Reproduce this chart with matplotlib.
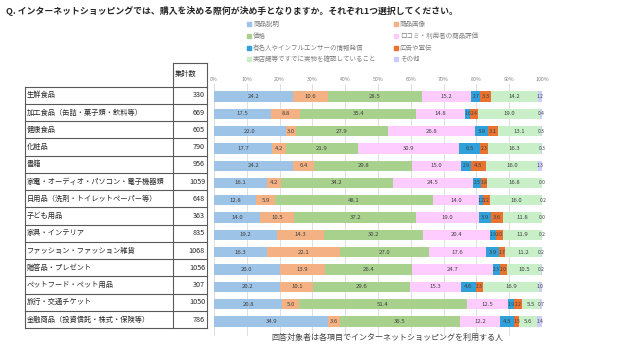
import matplotlib
matplotlib.use("Agg")
import matplotlib.pyplot as plt
from matplotlib.patches import Rectangle
import numpy as np

plt.rcParams['font.family'] = ['Noto Sans CJK JP', 'DejaVu Sans']

title = "Q. インターネットショッピングでは、購入を決める際何が決め手となりますか。それぞれ1つ選択してください。"
footnote = "回答対象者は各項目でインターネットショッピングを利用する人"

categories = ["生鮮食品", "加工食品（缶詰・菓子類・飲料等）", "健康食品", "化粧品", "書籍",
              "家電・オーディオ・パソコン・電子機器類", "日用品（洗剤・トイレットペーパー等）",
              "子ども用品", "家具・インテリア", "ファッション・ファッション雑貨",
              "贈答品・プレゼント", "ペットフード・ペット用品", "旅行・交通チケット",
              "金融商品（投資信託・株式・保険等）"]
counts = [330, 669, 605, 790, 956, 1059, 648, 363, 835, 1068, 1056, 307, 1050, 786]

series_names = ["商品説明", "商品画像", "価格", "口コミ・利用者の商品評価",
                "有名人やインフルエンサーの情報発信", "広告や宣伝",
                "実店舗等ですでに実物を確認していること", "その他"]
s_desc   = [24.2, 17.5, 22.0, 17.7, 24.2, 16.1, 12.8, 14.0, 19.2, 16.3, 20.0, 20.2, 20.8, 34.9]
s_image  = [10.6, 8.8, 3.0, 4.2, 6.4, 4.2, 5.9, 10.5, 14.3, 22.1, 13.9, 10.1, 5.0, 3.6]
s_price  = [28.5, 35.4, 27.9, 21.9, 29.8, 34.2, 48.1, 37.2, 30.2, 27.0, 26.4, 29.6, 51.4, 36.5]
s_review = [15.2, 14.8, 26.8, 30.9, 15.0, 24.5, 14.0, 19.0, 20.4, 17.6, 24.7, 15.3, 12.5, 12.2]
s_celeb  = [2.7, 1.6, 3.8, 6.5, 2.9, 2.5, 1.2, 3.9, 1.9, 3.9, 2.3, 4.6, 1.9, 4.3]
s_ad     = [3.3, 2.4, 3.1, 2.3, 4.5, 1.8, 2.2, 3.6, 2.0, 1.7, 2.0, 2.3, 2.2, 1.5]
s_store  = [14.2, 19.0, 13.1, 16.3, 16.0, 16.8, 16.0, 11.8, 11.9, 11.2, 10.5, 16.9, 5.5, 5.6]
s_other  = [1.2, 0.4, 0.3, 0.3, 1.3, 0.0, 0.2, 0.0, 0.2, 0.2, 0.2, 1.0, 0.7, 1.4]
series = [s_desc, s_image, s_price, s_review, s_celeb, s_ad, s_store, s_other]
colors = ['#9DC3E6', '#F4B183', '#A9D18E', '#FFCCFF', '#2FA0DA', '#EA7230', '#C8EFC8', '#CCCCFF']
xticks = [0, 10, 20, 30, 40, 50, 60, 70, 80, 90, 100]

W, H = 640, 350
fig = plt.figure(figsize=(6.4, 3.5), dpi=100)

# bar axes
top_px, bot_px = 84, 336
left_px, right_px = 214, 542
row0, step = 96.5, 17.3
ax = fig.add_axes([left_px / W, 1 - bot_px / H, (right_px - left_px) / W, (bot_px - top_px) / H])
n = len(categories)
y = np.arange(n)
ax.set_ylim((bot_px - row0) / step, (top_px - row0) / step)
ax.set_xlim(0, 100)
left = np.zeros(n)
for vals, c in zip(series, colors):
    v = np.array(vals)
    ax.barh(y, v, left=left, height=0.6, color=c, zorder=2)
    for yi, (l, w) in enumerate(zip(left, v)):
        fs = 4.3 if w >= 3 else 3.5
        ax.text(l + w / 2, yi, f"{w:.1f}", ha='center', va='center', fontsize=fs,
                color='#404040', zorder=3)
    left += v
ax.set_xticks(xticks)
ax.set_xticklabels([f"{t}%" for t in xticks])
ax.xaxis.tick_top()
ax.tick_params(axis='x', length=0, pad=1.5, labelsize=3.8, labelcolor='#808080')
ax.set_yticks([])
ax.grid(axis='x', color='#D9D9D9', linewidth=0.6, zorder=0)
for s in ax.spines.values():
    s.set_visible(False)

# overlay for table, legend, texts
ov = fig.add_axes([0, 0, 1, 1])
ov.set_xlim(0, W)
ov.set_ylim(H, 0)
ov.axis('off')
ov.patch.set_alpha(0)

ov.text(6, 11, title, fontsize=6.4, fontweight='bold', color='#262626', va='center', ha='left')

# table
tl, tm, tr = 25, 172.5, 207
ht, r0, rs = 63, 86.7, 17.25
lc = '#595959'
ov.plot([tm, tm], [ht, r0 + rs * n], color=lc, lw=0.8)
ov.plot([tr, tr], [ht, r0 + rs * n], color=lc, lw=0.8)
ov.plot([tm, tr], [ht, ht], color=lc, lw=0.8)
ov.plot([tl, tl], [r0, r0 + rs * n], color=lc, lw=0.8)
for k in range(n + 1):
    ov.plot([tl, tr], [r0 + rs * k, r0 + rs * k], color=lc, lw=0.8)
ov.text(175, 73.5, "集計数", fontsize=5.2, color='#262626', va='center', ha='left')
for i, (cat, cnt) in enumerate(zip(categories, counts)):
    yc = r0 + rs * (i + 0.5)
    ov.text(27, yc, cat, fontsize=5.2, color='#262626', va='center', ha='left')
    ov.text(205, yc, str(cnt), fontsize=5.2, color='#262626', va='center', ha='right')

# legend (2 columns, row-wise)
lx = [249, 396]
ly = [24, 36, 48, 59]
for i, (name, c) in enumerate(zip(series_names, colors)):
    cx, cy = lx[i % 2], ly[i // 2]
    ov.add_patch(Rectangle((cx - 2, cy - 2), 4, 4, color=c))
    ov.text(cx + 4, cy, name, fontsize=4.7, color='#7F7F7F', va='center', ha='left')

ov.text(387, 337, footnote, fontsize=5.8, color='#404040', va='center', ha='center')

fig.savefig("out.png", dpi=100)
